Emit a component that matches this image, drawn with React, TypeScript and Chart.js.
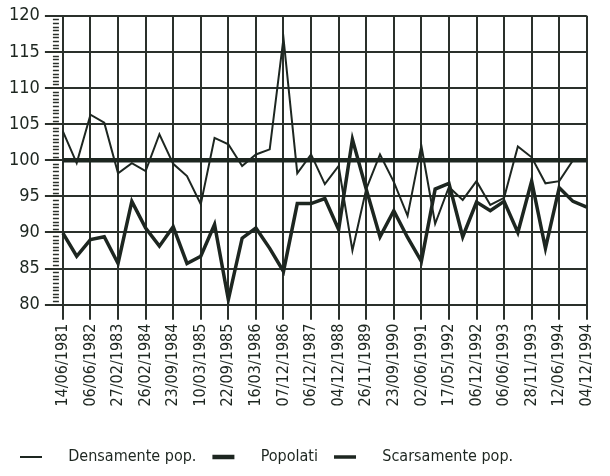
import React, { useEffect, useRef } from 'react';
import { Chart, registerables } from 'chart.js';

Chart.register(...registerables);

const dateLabels = [
  '14/06/1981', '06/06/1982', '27/02/1983', '26/02/1984', '23/09/1984',
  '10/03/1985', '22/09/1985', '16/03/1986', '07/12/1986', '06/12/1987',
  '04/12/1988', '26/11/1989', '23/09/1990', '02/06/1991', '17/05/1992',
  '06/12/1992', '06/06/1993', '28/11/1993', '12/06/1994', '04/12/1994',
];

// one unlabeled observation sits between consecutive labeled dates
const categories: string[] = dateLabels.flatMap((d, i) =>
  i < dateLabels.length - 1 ? [d, ''] : [d]
);

const densamente: (number | null)[] = [
  104.0, 99.6, 106.3, 105.2, 98.2, 99.6, 98.5, 103.6, 99.5, 97.8,
  93.9, 103.1, 102.2, 99.2, 100.8, 101.5, 116.9, 98.2, 100.8, 96.7,
  99.2, 87.5, 96.0, 100.8, 97.0, 92.3, 102.0, 91.2, 96.3, 94.5,
  97.1, 93.8, 94.8, 101.9, 100.4, 96.8, 97.1, 100.0, null,
];

const popolati: number[] = [
  100, 100, 100, 100, 100, 100, 100, 100, 100, 100,
  100, 100, 100, 100, 100, 100, 100, 100, 100, 100,
  100, 100, 100, 100, 100, 100, 100, 100, 100, 100,
  100, 100, 100, 100, 100, 100, 100, 100, 100,
];

const scarsamente: number[] = [
  89.9, 86.7, 89.0, 89.4, 85.7, 94.3, 90.6, 88.1, 90.8, 85.7,
  86.7, 91.1, 80.7, 89.2, 90.6, 87.8, 84.6, 94.0, 94.0, 94.7,
  90.4, 102.9, 96.0, 89.4, 93.0, 89.3, 86.0, 96.0, 96.8, 89.4,
  94.2, 93.0, 94.3, 90.0, 97.1, 87.8, 96.2, 94.3, 93.5,
];

const Y_MIN = 80;
const Y_MAX = 120;
const Y_STEP = 5;
const Y_MINOR_STEP = 0.5;

const INK = '#1d2620';
const GRID = '#2a302b';
const FONT = "'Liberation Sans Narrow', 'DejaVu Sans Condensed', 'Arial Narrow', sans-serif";

const minorTicksPlugin = {
  id: 'minorTicks',
  afterDraw(chart: any) {
    const y = chart.scales.y;
    const ctx = chart.ctx;
    const left = chart.chartArea.left;
    ctx.save();
    ctx.strokeStyle = GRID;
    ctx.lineWidth = 1.5;
    const n = Math.round((Y_MAX - Y_MIN) / Y_MINOR_STEP);
    for (let i = 0; i <= n; i++) {
      const v = Y_MIN + i * Y_MINOR_STEP;
      if (Math.abs(v / Y_STEP - Math.round(v / Y_STEP)) < 1e-6) continue;
      const py = Math.round(y.getPixelForValue(v)) + 0.5;
      ctx.beginPath();
      ctx.moveTo(left - 10, py);
      ctx.lineTo(left - 4, py);
      ctx.stroke();
    }
    ctx.restore();
  },
};

export default function App() {
  const ref = useRef<HTMLCanvasElement | null>(null);

  useEffect(() => {
    if (!ref.current) return;
    const chart = new Chart(ref.current, {
      type: 'line',
      data: {
        labels: categories,
        datasets: [
          {
            label: 'Densamente pop.',
            data: densamente,
            borderColor: INK,
            backgroundColor: INK,
            borderWidth: 2,
            pointRadius: 0,
            tension: 0,
            spanGaps: false,
          },
          {
            label: 'Popolati',
            data: popolati,
            borderColor: INK,
            backgroundColor: INK,
            borderWidth: 4.5,
            pointRadius: 0,
            tension: 0,
          },
          {
            label: 'Scarsamente pop.',
            data: scarsamente,
            borderColor: INK,
            backgroundColor: INK,
            borderWidth: 3.5,
            pointRadius: 0,
            tension: 0,
          },
        ],
      },
      options: {
        animation: false,
        responsive: false,
        maintainAspectRatio: false,
        devicePixelRatio: 1,
        layout: { padding: { left: 4, right: 13, top: 4, bottom: 1 } },
        plugins: {
          tooltip: { enabled: false },
          legend: {
            display: true,
            position: 'bottom',
            align: 'start',
            title: {
              display: true,
              text: '',
              font: { size: 2 },
              padding: { top: 0, bottom: 20 },
            },
            labels: {
              usePointStyle: true,
              pointStyle: 'line',
              pointStyleWidth: 22,
              color: INK,
              padding: 16,
              font: { family: FONT, size: 16 },
              generateLabels(chart: any) {
                const items = Chart.defaults.plugins.legend.labels.generateLabels(chart);
                return items.map((it: any) => ({ ...it, text: '    ' + it.text }));
              },
            },
          },
        },
        scales: {
          x: {
            type: 'category',
            offset: false,
            border: { display: true, color: GRID, width: 2 },
            grid: {
              color: (c: any) => (c.index % 2 === 0 ? GRID : 'rgba(0,0,0,0)'),
              tickColor: (c: any) => (c.index % 2 === 0 ? GRID : 'rgba(0,0,0,0)'),
              lineWidth: 2,
              tickLength: 15,
            },
            ticks: {
              autoSkip: false,
              maxRotation: 90,
              minRotation: 90,
              padding: 4,
              color: INK,
              font: { family: FONT, size: 16 },
            },
          },
          y: {
            min: Y_MIN,
            max: Y_MAX,
            border: { display: false },
            grid: { color: GRID, lineWidth: 2, tickLength: 18, tickColor: GRID },
            ticks: {
              stepSize: Y_STEP,
              padding: 5,
              color: INK,
              font: { family: FONT, size: 18 },
            },
          },
        },
      },
      plugins: [minorTicksPlugin],
    });
    return () => chart.destroy();
  }, []);

  return (
    <div style={{ position: 'fixed', left: 0, top: 0, width: 610, height: 476, background: '#fff' }}>
      <canvas ref={ref} width={610} height={476} style={{ display: 'block' }} />
    </div>
  );
}
